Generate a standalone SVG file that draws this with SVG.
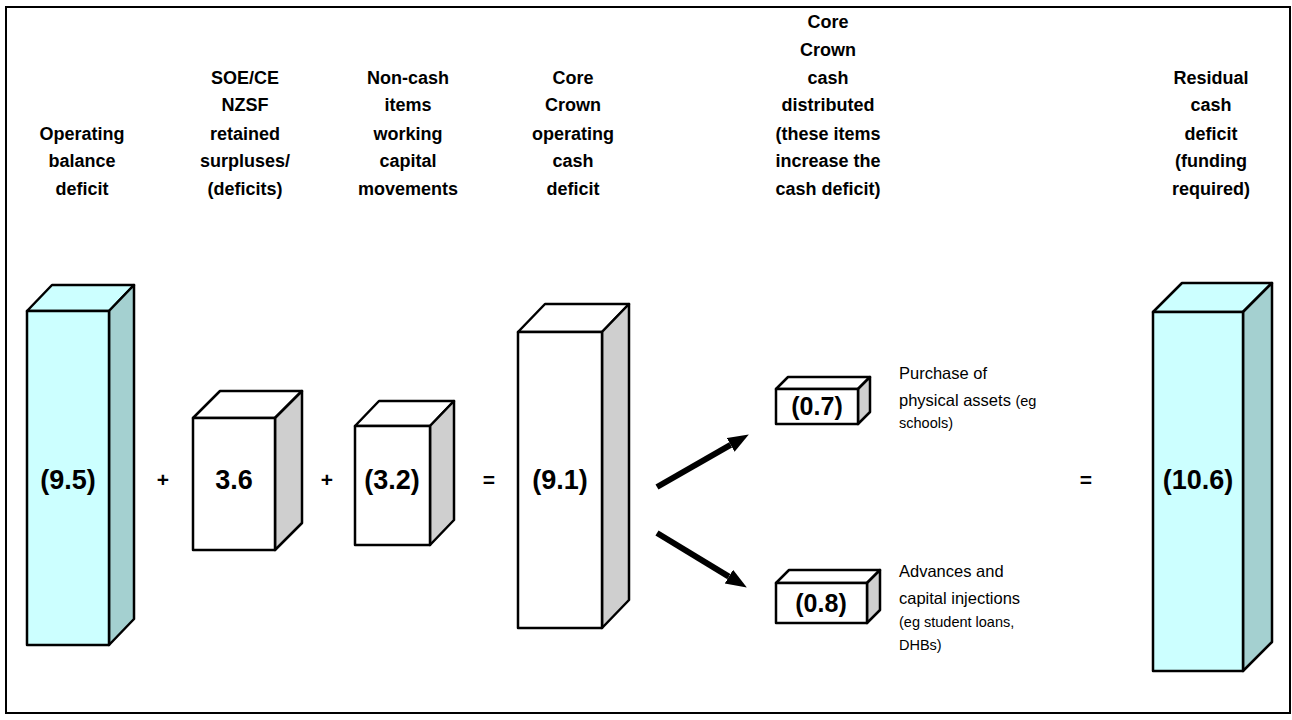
<svg xmlns="http://www.w3.org/2000/svg" width="1292" height="720" viewBox="0 0 1292 720">
<style>
.ln{stroke:#000;stroke-width:2.5;stroke-linejoin:round}
.cf{fill:#CCFFFF}.cs{fill:#A4D0D0}
.wf{fill:#FFFFFF}.ws{fill:#CFCFCF}
.hd{font-family:"Liberation Sans",Arial,sans-serif;font-weight:bold;font-size:18px;text-anchor:middle;fill:#000}
.num{font-family:"Liberation Sans",Arial,sans-serif;font-weight:bold;font-size:27px;text-anchor:middle;fill:#000}
.sn{font-size:25px}
.op{font-family:"Liberation Sans",Arial,sans-serif;font-weight:bold;font-size:21px;text-anchor:middle;fill:#000}
.nt{font-family:"Liberation Sans",Arial,sans-serif;font-size:16.5px;fill:#000}
.sm{font-size:14.5px}
.arr{stroke:#000;stroke-width:6;fill:none}
</style>
<defs>
<marker id="ah" markerUnits="userSpaceOnUse" markerWidth="22" markerHeight="18" refX="0" refY="8" orient="auto" viewBox="0 0 22 18">
<path d="M0,0 L21,8 L0,16 z" fill="#000"/>
</marker>
</defs>
<rect x="6" y="7" width="1284" height="706" fill="#fff" stroke="#000" stroke-width="2"/>

<g id="headers">
<text class="hd"><tspan x="82" y="140">Operating</tspan><tspan x="82" y="167">balance</tspan><tspan x="82" y="195">deficit</tspan></text>
<text class="hd"><tspan x="245" y="84">SOE/CE</tspan><tspan x="245" y="111">NZSF</tspan><tspan x="245" y="140">retained</tspan><tspan x="245" y="167">surpluses/</tspan><tspan x="245" y="195">(deficits)</tspan></text>
<text class="hd"><tspan x="408" y="84">Non-cash</tspan><tspan x="408" y="111">items</tspan><tspan x="408" y="140">working</tspan><tspan x="408" y="167">capital</tspan><tspan x="408" y="195">movements</tspan></text>
<text class="hd"><tspan x="573" y="84">Core</tspan><tspan x="573" y="111">Crown</tspan><tspan x="573" y="140">operating</tspan><tspan x="573" y="167">cash</tspan><tspan x="573" y="195">deficit</tspan></text>
<text class="hd"><tspan x="828" y="28">Core</tspan><tspan x="828" y="56">Crown</tspan><tspan x="828" y="84">cash</tspan><tspan x="828" y="111">distributed</tspan><tspan x="828" y="140">(these items</tspan><tspan x="828" y="167">increase the</tspan><tspan x="828" y="195">cash deficit)</tspan></text>
<text class="hd"><tspan x="1211" y="84">Residual</tspan><tspan x="1211" y="111">cash</tspan><tspan x="1211" y="140">deficit</tspan><tspan x="1211" y="167">(funding</tspan><tspan x="1211" y="195">required)</tspan></text>
</g>

<g id="box-operating-balance">
<polygon class="cf ln" points="27,311 52,285 134,285 109,311"/>
<polygon class="cs ln" points="109,311 134,285 134,619 109,645"/>
<rect class="cf ln" x="27" y="311" width="82" height="334"/>
<text class="num" x="68" y="489">(9.5)</text>
</g>

<g id="box-soe">
<polygon class="wf ln" points="193,418 220,391 302,391 275,418"/>
<polygon class="ws ln" points="275,418 302,391 302,523 275,550"/>
<rect class="wf ln" x="193" y="418" width="82" height="132"/>
<text class="num" x="234" y="489">3.6</text>
</g>

<g id="box-noncash">
<polygon class="wf ln" points="355,426 379,401 454,401 430,426"/>
<polygon class="ws ln" points="430,426 454,401 454,520 430,545"/>
<rect class="wf ln" x="355" y="426" width="75" height="119"/>
<text class="num" x="392" y="489">(3.2)</text>
</g>

<g id="box-core">
<polygon class="wf ln" points="518,332 545,304 629,304 602,332"/>
<polygon class="ws ln" points="602,332 629,304 629,600 602,628"/>
<rect class="wf ln" x="518" y="332" width="84" height="296"/>
<text class="num" x="560" y="489">(9.1)</text>
</g>

<g id="box-physical">
<polygon class="wf ln" points="776,389 788,377 870,377 858,389"/>
<polygon class="ws ln" points="858,389 870,377 870,412 858,424"/>
<rect class="wf ln" x="776" y="389" width="82" height="35"/>
<text class="num sn" x="817" y="415">(0.7)</text>
</g>

<g id="box-advances">
<polygon class="wf ln" points="776,583 789,570 880,570 867,583"/>
<polygon class="ws ln" points="867,583 880,570 880,610 867,623"/>
<rect class="wf ln" x="776" y="583" width="91" height="40"/>
<text class="num sn" x="821" y="612">(0.8)</text>
</g>

<g id="box-residual">
<polygon class="cf ln" points="1153,312 1182,283 1272,283 1243,312"/>
<polygon class="cs ln" points="1243,312 1272,283 1272,642 1243,671"/>
<rect class="cf ln" x="1153" y="312" width="90" height="359"/>
<text class="num" x="1198" y="489">(10.6)</text>
</g>

<g id="operators">
<text class="op" x="163" y="487">+</text>
<text class="op" x="327" y="487">+</text>
<text class="op" x="489" y="487">=</text>
<text class="op" x="1086" y="487">=</text>
</g>

<g id="notes">
<text class="nt"><tspan x="899" y="379">Purchase of</tspan><tspan x="899" y="406">physical assets <tspan class="sm">(eg</tspan></tspan><tspan class="sm" x="899" y="428">schools)</tspan></text>
<text class="nt"><tspan x="899" y="577">Advances and</tspan><tspan x="899" y="604">capital injections</tspan><tspan class="sm" x="899" y="627">(eg student loans,</tspan><tspan class="sm" x="899" y="650">DHBs)</tspan></text>
</g>

<g id="connectors">
<line class="arr" x1="657" y1="487" x2="730.6" y2="444.9" marker-end="url(#ah)"/>
<line class="arr" x1="657" y1="533" x2="728.9" y2="576.6" marker-end="url(#ah)"/>
</g>
</svg>
